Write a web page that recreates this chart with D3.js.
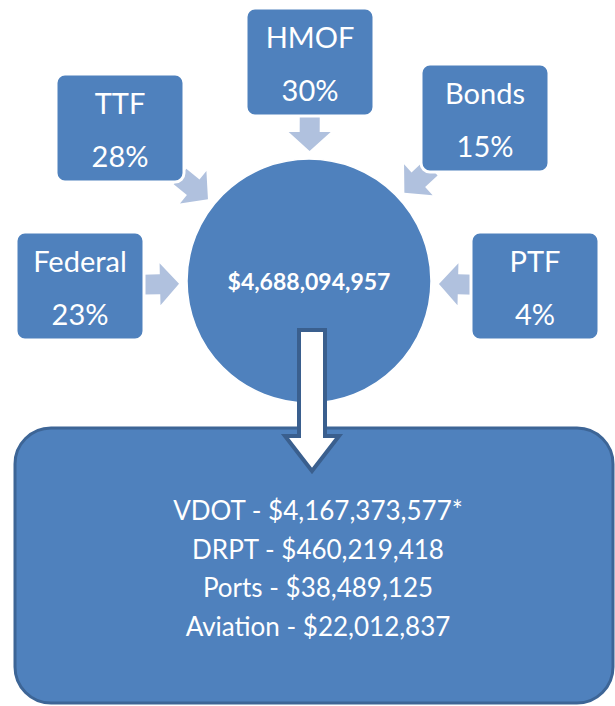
<!DOCTYPE html>
<html>
<head>
<meta charset="utf-8">
<title>Funding flow</title>
<script src="https://cdn.jsdelivr.net/npm/d3@7"></script>
<style>
  body { margin: 0; background: #fff; }
  svg { display: block; }
</style>
</head>
<body>
<div id="chart"></div>
<script>
const width = 615, height = 706;

// Funding sources and their share of the total
const sources = ["Federal", "TTF", "HMOF", "Bonds", "PTF"];
const shares = [23, 28, 30, 15, 4];
const total = 4688094957;

// Where it goes
const agencies = ["VDOT", "DRPT", "Ports", "Aviation"];
const amounts = [4167373577, 460219418, 38489125, 22012837];
const notes = ["*", "", "", ""];

// layout of the source boxes (centre of box)
const boxPos = {
  Federal: [80, 286],
  TTF: [120, 128],
  HMOF: [310, 62],
  Bonds: [485, 118],
  PTF: [535, 286]
};

const blue = "#4f81bd", pale = "#b0c1de", dark = "#3a5f8e";
const font = "Lato, 'Liberation Sans', sans-serif";
const fmt = d3.format(",");

const svg = d3.select("#chart").append("svg")
  .attr("width", width)
  .attr("height", height);

const cx = 309, cy = 281, R = 122;

// light arrows pointing from each box to the circle
const arrowLen = 36, shaftW = 20, headW = 42, headLen = 19;
const arrowPath = function(d) {
  const p = boxPos[d];
  const a = Math.atan2(p[1] - cy, p[0] - cx);
  const ux = Math.cos(a), uy = Math.sin(a);
  const vx = -uy, vy = ux;
  const tip = [cx + ux * 130, cy + uy * 130];
  const pt = (along, side) => [tip[0] + ux * along + vx * side, tip[1] + uy * along + vy * side];
  const pts = [
    pt(0, 0),
    pt(headLen, headW / 2),
    pt(headLen, shaftW / 2),
    pt(arrowLen, shaftW / 2),
    pt(arrowLen, -shaftW / 2),
    pt(headLen, -shaftW / 2),
    pt(headLen, -headW / 2)
  ];
  return d3.line()(pts) + "Z";
};

svg.append("g").selectAll("path")
  .data(sources)
  .join("path")
  .attr("d", arrowPath)
  .attr("fill", pale);

// bottom box
svg.append("rect")
  .attr("x", 15).attr("y", 428)
  .attr("width", 598).attr("height", 275)
  .attr("rx", 36)
  .attr("fill", blue)
  .attr("stroke", "#3d6596")
  .attr("stroke-width", 3);

// centre circle
svg.append("circle")
  .attr("cx", cx).attr("cy", cy).attr("r", R)
  .attr("fill", blue)
  .attr("stroke", "#fff")
  .attr("stroke-width", 1.5);

svg.append("text")
  .attr("x", cx).attr("y", cy)
  .attr("text-anchor", "middle")
  .attr("dominant-baseline", "central")
  .attr("fill", "#fff")
  .attr("font-family", font)
  .attr("font-weight", "bold")
  .attr("font-size", 23)
  .text("$" + fmt(total));

// source boxes
const bw = 128, bh = 108;
const boxes = svg.append("g").selectAll("g")
  .data(sources)
  .join("g")
  .attr("transform", d => `translate(${boxPos[d][0]},${boxPos[d][1]})`);

boxes.append("rect")
  .attr("x", -bw / 2).attr("y", -bh / 2)
  .attr("width", bw).attr("height", bh)
  .attr("rx", 9)
  .attr("fill", blue)
  .attr("stroke", "#fff")
  .attr("stroke-width", 3);

boxes.append("text")
  .attr("y", -26)
  .attr("text-anchor", "middle")
  .attr("dominant-baseline", "central")
  .attr("fill", "#fff")
  .attr("font-family", font)
  .attr("font-size", 29)
  .text(d => d);

boxes.append("text")
  .attr("y", 27)
  .attr("text-anchor", "middle")
  .attr("dominant-baseline", "central")
  .attr("fill", "#fff")
  .attr("font-family", font)
  .attr("font-size", 29)
  .text((d, i) => shares[i] + "%");

// white down arrow from circle into the bottom box
const dx = 312;
svg.append("path")
  .attr("d", d3.line()([
    [dx - 13, 330], [dx + 13, 330], [dx + 13, 436], [dx + 27, 436],
    [dx, 471], [dx - 27, 436], [dx - 13, 436]
  ]) + "Z")
  .attr("fill", "#fff")
  .attr("stroke", dark)
  .attr("stroke-width", 4)
  .attr("stroke-linejoin", "miter");

// agency amounts
const yLine = d3.scalePoint().domain(agencies).range([510, 626]);
svg.append("g").selectAll("text")
  .data(agencies)
  .join("text")
  .attr("x", 318)
  .attr("y", d => yLine(d))
  .attr("text-anchor", "middle")
  .attr("dominant-baseline", "central")
  .attr("fill", "#fff")
  .attr("font-family", font)
  .attr("font-size", 26)
  .text((d, i) => d + " - $" + fmt(amounts[i]) + notes[i]);
</script>
</body>
</html>
